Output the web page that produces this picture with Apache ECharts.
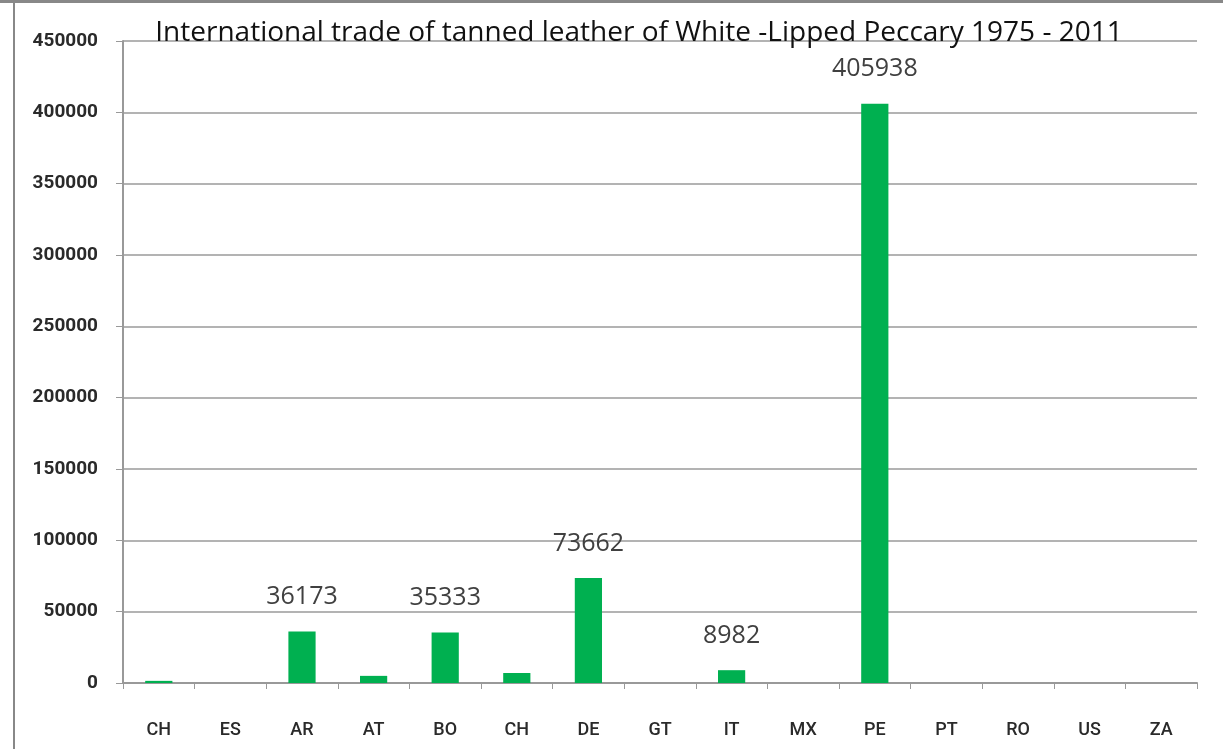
<!DOCTYPE html>
<html>
<head>
<meta charset="utf-8">
<script src="https://cdn.jsdelivr.net/npm/echarts@6/dist/echarts.min.js"></script>
<style>
  html, body { margin: 0; padding: 0; background: #fff; }
  #main { width: 1223px; height: 749px; }
</style>
</head>
<body>
<div id="main"></div>
<script>
// country codes, in the order of the source chart
var countries = ['CH', 'ES', 'AR', 'AT', 'BO', 'CH', 'DE', 'GT', 'IT', 'MX', 'PE', 'PT', 'RO', 'US', 'ZA'];
// traded pieces (small bars)
var pieces = [1500, 0, 36173, 5000, 35333, 7000, 73662, 0, 8982, 0, 405938, 0, 0, 0, 0];
// bars that carry a value label in the source
var labeled = [2, 4, 6, 8, 10];
var yTicks = [0, 50000, 100000, 150000, 200000, 250000, 300000, 350000, 400000, 450000];

var myChart = echarts.init(document.getElementById('main'));

var seriesData = pieces.map(function (v, i) {
  return {
    value: v,
    label: { show: labeled.indexOf(i) >= 0 }
  };
});

var option = {
  animation: false,
  backgroundColor: '#fff',
  title: {
    text: 'International trade of tanned leather of White -Lipped Peccary 1975 - 2011',
    left: 634,
    textAlign: 'center',
    top: 14,
    textStyle: { fontFamily: 'Open Sans', fontSize: 28, fontWeight: 'normal', color: '#111' }
  },
  grid: { left: 123, right: 26, top: 41, bottom: 66 },
  xAxis: {
    type: 'category',
    data: countries,
    axisLine: { lineStyle: { color: '#999', width: 2 } },
    axisTick: { show: true, length: 6, lineStyle: { color: '#999' } },
    axisLabel: {
      margin: 38,
      fontFamily: 'Roboto',
      fontWeight: 500,
      fontSize: 18,
      color: '#2a2a2a'
    }
  },
  yAxis: {
    type: 'value',
    min: yTicks[0],
    max: yTicks[yTicks.length - 1],
    interval: 50000,
    axisLine: { show: true, lineStyle: { color: '#999', width: 2 } },
    axisTick: { show: true, length: 7, lineStyle: { color: '#999' } },
    splitLine: { lineStyle: { color: '#9a9a9a', width: 1.5 } },
    axisLabel: {
      margin: 25,
      fontFamily: 'Roboto',
      fontWeight: 'bold',
      fontSize: 19,
      color: '#2a2a2a',
      formatter: function (v) { return String(v); }
    }
  },
  series: [{
    type: 'bar',
    data: seriesData,
    barWidth: '38%',
    itemStyle: { color: '#00b050' },
    label: {
      position: 'top',
      distance: 22,
      fontFamily: 'Open Sans',
      fontSize: 25,
      color: '#404040'
    }
  }],
  graphic: [
    { type: 'rect', shape: { x: 0, y: 0, width: 1223, height: 3 }, style: { fill: '#888' } },
    { type: 'rect', shape: { x: 13, y: 0, width: 2, height: 749 }, style: { fill: '#888' } }
  ]
};

myChart.setOption(option);
</script>
</body>
</html>
